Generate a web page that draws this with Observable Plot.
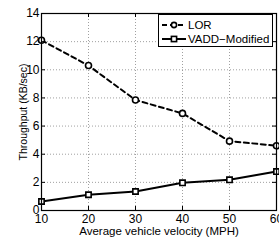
<!DOCTYPE html>
<html><head><meta charset="utf-8">
<script src="https://cdn.jsdelivr.net/npm/d3@7"></script>
<script src="https://cdn.jsdelivr.net/npm/@observablehq/plot@0.6"></script>
<style>
body{margin:0;background:#fff;font-family:"Liberation Sans",Arial,sans-serif;}
#wrap{position:relative;width:279px;height:240px;}
#legend{position:absolute;left:158px;top:14px;width:113px;height:31px;border:1.2px solid #000;background:#fff;font-size:11.5px;color:#000;}
#legend .row{position:absolute;left:2px;height:14px;display:flex;align-items:center;}
#legend svg{display:block}
</style></head>
<body><div id="wrap"><div id="legend"></div></div>
<script>
const velocity = [10, 20, 30, 40, 50, 60];
const lor = [12.1, 10.3, 7.85, 6.9, 4.93, 4.6];
const vadd = [0.64, 1.12, 1.35, 1.97, 2.18, 2.77];
const seriesNames = ["LOR", "VADD\u2212Modified"];
const xTicks = [10, 20, 30, 40, 50, 60];
const yTicks = [0, 2, 4, 6, 8, 10, 12, 14];

const W = 279, H = 240, mt = 13, mb = 30, ml = 41, mr = 3;
const innerH = H - mt - mb, innerW = W - ml - mr;
const lorData = velocity.map((v, i) => ({x: v, y: lor[i]}));
const vaddData = velocity.map((v, i) => ({x: v, y: vadd[i]}));

const chart = Plot.plot({
  width: W, height: H,
  marginTop: mt, marginBottom: mb, marginLeft: ml, marginRight: mr,
  style: {fontFamily: "Liberation Sans, Arial, sans-serif", fontSize: "12px", color: "#000", background: "transparent", overflow: "visible"},
  x: {domain: [10, 60]},
  y: {domain: [0, 14]},
  marks: [
    Plot.gridX(xTicks, {stroke: "#888", strokeOpacity: 1, strokeDasharray: "1,2", strokeWidth: 0.8}),
    Plot.gridY(yTicks, {stroke: "#888", strokeOpacity: 1, strokeDasharray: "1,2", strokeWidth: 0.8}),
    Plot.line(vaddData, {x: "x", y: "y", stroke: "#000", strokeWidth: 2}),
    Plot.dot(vaddData, {x: "x", y: "y", symbol: "square", r: 3, stroke: "#000", strokeWidth: 1.6, fill: "#fff"}),
    Plot.line(lorData, {x: "x", y: "y", stroke: "#000", strokeWidth: 2, strokeDasharray: "5,3.5"}),
    Plot.dot(lorData, {x: "x", y: "y", symbol: "circle", r: 3, stroke: "#000", strokeWidth: 1.6, fill: "#fff"}),
    Plot.tickX(xTicks, {x: d => d, stroke: "#000", insetTop: innerH - 4}),
    Plot.tickX(xTicks, {x: d => d, stroke: "#000", insetBottom: innerH - 4}),
    Plot.tickY(yTicks, {y: d => d, stroke: "#000", insetRight: innerW - 4}),
    Plot.tickY(yTicks, {y: d => d, stroke: "#000", insetLeft: innerW - 4}),
    Plot.frame({stroke: "#000", strokeWidth: 1.2}),
    Plot.axisX(xTicks, {tickSize: 0, tickPadding: 4, fontSize: 12, label: null}),
    Plot.axisY(yTicks, {tickSize: 0, tickPadding: 2, fontSize: 12, label: null}),
    Plot.axisX({tickSize: 0, ticks: [], label: "Average vehicle velocity (MPH)", labelAnchor: "center", labelOffset: 24, labelArrow: "none", fontSize: 11.5}),
    Plot.axisY({tickSize: 0, ticks: [], label: "Throughput (KB/sec)", labelAnchor: "center", labelOffset: 22, labelArrow: "none", fontSize: 10.5})
  ]
});
document.getElementById("wrap").prepend(chart);
chart.style.position = "absolute"; chart.style.left = "0"; chart.style.top = "0";

const legend = document.getElementById("legend");
seriesNames.forEach((name, i) => {
  const row = document.createElement("div");
  row.className = "row";
  row.style.top = (3 + i * 14) + "px";
  const dash = i === 0 ? 'stroke-dasharray="5,3"' : "";
  const marker = i === 0
    ? '<circle cx="13" cy="7" r="2.6" fill="#fff" stroke="#000" stroke-width="1.6"/>'
    : '<rect x="10.4" y="4.4" width="5.2" height="5.2" fill="#fff" stroke="#000" stroke-width="1.6"/>';
  row.innerHTML = `<svg width="26" height="14"><line x1="1" y1="7" x2="25" y2="7" stroke="#000" stroke-width="2" ${dash}/>${marker}</svg><span style="margin-left:1px">${name}</span>`;
  legend.appendChild(row);
});
</script></body></html>
